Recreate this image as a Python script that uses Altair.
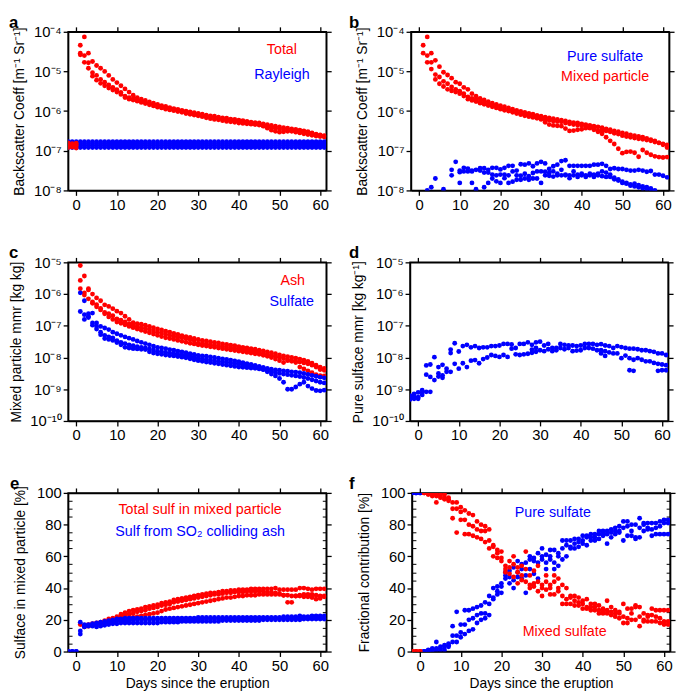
import altair as alt
import pandas as pd

FONT = "Liberation Sans"
RED = "#ff0000"
BLUE = "#0000ff"
W, H = 262, 161
XTICKS = [0, 10, 20, 30, 40, 50, 60]
MINOR_PCT = [5, 10, 15, 25, 30, 35, 45, 50, 55, 65, 70, 75, 85, 90, 95]

# ---------------- Panel a (log10 values) ----------------
a_total_1 = (-2, [-6.80, -6.82, -6.81, -4.34, -4.13, -4.54, -4.75, -4.85, -4.92, -5.00, -5.10, -5.20, -5.28, -5.36, -5.44, -5.52, -5.60, -5.66, -5.70, -5.73, -5.77, -5.80, -5.83, -5.86, -5.88, -5.91, -5.94, -5.96, -5.98, -6.00, -6.02, -6.04, -6.06, -6.08, -6.10, -6.12, -6.13, -6.15, -6.17, -6.18, -6.20, -6.21, -6.23, -6.24, -6.26, -6.28, -6.29, -6.30, -6.32, -6.34, -6.36, -6.38, -6.40, -6.42, -6.43, -6.45, -6.46, -6.48, -6.50, -6.52, -6.55, -6.58, -6.60, -6.62])
a_total_2 = (-2, [-6.86, -6.87, -6.86, -4.54, -4.60, -4.78, -5.03, -5.10, -5.20, -5.27, -5.34, -5.40, -5.46, -5.53, -5.62, -5.66, -5.69, -5.72, -5.75, -5.78, -5.81, -5.84, -5.87, -5.90, -5.92, -5.94, -5.96, -5.98, -6.00, -6.03, -6.05, -6.07, -6.09, -6.11, -6.13, -6.15, -6.17, -6.19, -6.20, -6.22, -6.23, -6.25, -6.27, -6.28, -6.30, -6.31, -6.32, -6.34, -6.38, -6.43, -6.48, -6.51, -6.53, -6.52, -6.51, -6.50, -6.52, -6.51, -6.53, -6.55, -6.58, -6.60, -6.62, -6.63])
a_total_3 = (-2, [-6.92, -6.91, -6.93, -4.58, -4.77, -4.92, -5.12, -5.22, -5.30, -5.36, -5.42, -5.47, -5.52, -5.58, -5.66, -5.70, -5.72, -5.75, -5.78, -5.81, -5.84, -5.87, -5.90, -5.92, -5.95, -5.97, -5.99, -6.01, -6.03, -6.06, -6.08, -6.10, -6.12, -6.14, -6.17, -6.19, -6.21, -6.22, -6.24, -6.26, -6.27, -6.28, -6.30, -6.31, -6.32, -6.33, -6.34, -6.35, -6.37, -6.39, -6.41, -6.43, -6.45, -6.47, -6.49, -6.51, -6.53, -6.55, -6.57, -6.59, -6.61, -6.63, -6.64, -6.65])
rayleigh_levels = [-6.92, -6.87, -6.82, -6.77]

# ---------------- Panel b ----------------
b_mixed_1 = (1, [-4.34, -4.13, -4.54, -4.72, -4.88, -5.02, -5.09, -5.17, -5.27, -5.31, -5.40, -5.45, -5.56, -5.62, -5.68, -5.72, -5.76, -5.80, -5.83, -5.86, -5.89, -5.92, -5.95, -5.98, -6.01, -6.03, -6.06, -6.08, -6.11, -6.13, -6.15, -6.17, -6.19, -6.21, -6.23, -6.25, -6.27, -6.29, -6.30, -6.32, -6.34, -6.36, -6.38, -6.40, -6.42, -6.45, -6.47, -6.50, -6.52, -6.55, -6.57, -6.60, -6.62, -6.64, -6.66, -6.69, -6.72, -6.75, -6.80, -6.85, -6.92])
b_mixed_2 = (1, [-4.54, -4.60, -4.77, -5.08, -5.14, -5.25, -5.31, -5.39, -5.45, -5.50, -5.56, -5.64, -5.68, -5.70, -5.76, -5.79, -5.82, -5.85, -5.88, -5.91, -5.94, -5.97, -6.00, -6.04, -6.07, -6.09, -6.11, -6.13, -6.16, -6.19, -6.21, -6.23, -6.25, -6.26, -6.27, -6.30, -6.32, -6.34, -6.35, -6.37, -6.40, -6.43, -6.47, -6.52, -6.57, -6.66, -6.75, -6.83, -6.95, -7.06, -7.03, -7.02, -7.05, -7.15, -6.98, -7.05, -7.10, -7.14, -7.16, -7.17, -7.16])
b_mixed_3 = (2, [-4.77, -4.94, -5.20, -5.31, -5.38, -5.45, -5.49, -5.52, -5.56, -5.62, -5.70, -5.73, -5.76, -5.80, -5.83, -5.86, -5.89, -5.92, -5.95, -5.98, -6.00, -6.03, -6.06, -6.09, -6.12, -6.14, -6.16, -6.18, -6.21, -6.28, -6.34, -6.36, -6.37, -6.38, -6.44, -6.50, -6.49, -6.47, -6.46, -6.43, -6.40, -6.44, -6.50, -6.49, -6.50, -6.52, -6.56, -6.58, -6.62, -6.64, -6.66, -6.68, -6.70, -6.71, -6.73, -6.75, -6.78, -6.80, -6.83, -6.85])
b_pure_1 = (4, [-7.70, None, None, None, -7.48, -7.28, -7.50, -7.43, -7.45, -7.50, -7.48, -7.44, -7.44, -7.48, -7.43, -7.43, -7.47, -7.43, -7.38, -7.38, -7.50, -7.34, -7.35, -7.32, -7.39, -7.32, -7.28, -7.32, -7.46, -7.39, -7.35, -7.26, -7.24, -7.38, -7.38, -7.38, -7.38, -7.38, -7.38, -7.35, -7.35, -7.33, -7.38, -7.46, -7.44, -7.46, -7.46, -7.48, -7.50, -7.50, -7.48, -7.50, -7.53, -7.51, -7.60, -7.60, -7.63, -7.67])
b_pure_2 = (3, [-7.92, None, None, None, None, -7.62, None, -7.54, -7.52, -7.52, -7.52, None, -7.50, -7.55, -7.55, -7.60, -7.62, -7.60, -7.60, -7.62, -7.52, -7.62, -7.63, -7.58, -7.64, -7.56, -7.52, -7.52, -7.53, -7.56, -7.52, -7.58, -7.48, -7.60, -7.62, -7.52, -7.60, -7.58, -7.62, -7.58, -7.60, -7.58, -7.52, -7.55, -7.60, -7.68, -7.72, -7.81, -7.81, -7.85, -7.83, -7.87, -7.90, -7.92, -7.95, -8.00])
b_pure_3 = (2, [-8.00, None, None, None, -7.97, None, None, None, -7.81, None, None, -7.81, -7.97, None, -7.92, -7.81, -7.70, -7.77, -7.81, -7.69, -7.81, -7.78, -7.73, -7.73, -7.70, -7.73, -7.70, -7.70, -7.81, -7.62, -7.63, -7.65, -7.62, -7.62, -7.62, -7.69, -7.62, -7.66, -7.62, -7.66, -7.62, -7.66, -7.62, -7.64, -7.66, -7.66, -7.72, -7.75, -7.78, -7.83, -7.88, -7.90, -7.92, -7.95, -7.96, -7.98, -8.02])

# ---------------- Panel c ----------------
c_ash_1 = (1, [-5.10, -5.43, -5.83, -6.00, -6.12, -6.21, -6.34, -6.39, -6.46, -6.54, -6.60, -6.70, -6.80, -6.90, -6.93, -6.95, -6.98, -7.02, -7.06, -7.10, -7.13, -7.17, -7.20, -7.24, -7.27, -7.31, -7.34, -7.37, -7.40, -7.43, -7.46, -7.48, -7.50, -7.52, -7.54, -7.57, -7.59, -7.61, -7.63, -7.66, -7.68, -7.70, -7.72, -7.74, -7.77, -7.79, -7.82, -7.85, -7.88, -7.92, -7.95, -7.97, -8.00, -8.02, -8.05, -8.08, -8.12, -8.18, -8.24, -8.30, -8.34])
c_ash_2 = (1, [-5.57, -5.96, -5.87, -6.25, -6.33, -6.45, -6.58, -6.62, -6.68, -6.78, -6.82, -6.88, -6.94, -6.98, -7.02, -7.05, -7.08, -7.12, -7.16, -7.20, -7.23, -7.27, -7.30, -7.33, -7.36, -7.38, -7.41, -7.43, -7.46, -7.55, -7.56, -7.57, -7.59, -7.61, -7.63, -7.65, -7.67, -7.69, -7.71, -7.73, -7.75, -7.77, -7.79, -7.81, -7.84, -7.87, -7.90, -7.93, -7.96, -7.99, -8.03, -8.07, -8.10, -8.12, -8.14, -8.17, -8.20, -8.24, -8.30, -8.38, -8.40])
c_ash_3 = (1, [-5.83, -6.03, -6.15, -6.29, -6.40, -6.50, -6.62, -6.72, -6.80, -6.88, -6.92, -6.97, -7.02, -7.06, -7.10, -7.14, -7.18, -7.22, -7.26, -7.30, -7.34, -7.38, -7.40, -7.43, -7.46, -7.49, -7.52, -7.55, -7.57, -7.60, -7.62, -7.64, -7.66, -7.68, -7.70, -7.72, -7.74, -7.76, -7.78, -7.80, -7.82, -7.84, -7.86, -7.88, -7.90, -7.93, -7.96, -8.00, -8.05, -8.10, -8.16, -8.10, -8.12, -8.16, -8.30, -8.36, -8.42, -8.48, -8.54, -8.57, -8.58])
c_sul_1 = (1, [-5.96, -6.21, -6.62, -6.60, -6.91, -7.02, -7.07, -7.12, -7.20, -7.25, -7.30, -7.35, -7.39, -7.43, -7.48, -7.52, -7.56, -7.60, -7.64, -7.68, -7.70, -7.72, -7.75, -7.77, -7.80, -7.82, -7.85, -7.88, -7.90, -7.93, -7.95, -7.96, -7.98, -8.00, -8.02, -8.04, -8.06, -8.08, -8.11, -8.13, -8.16, -8.19, -8.22, -8.25, -8.28, -8.31, -8.34, -8.37, -8.39, -8.40, -8.42, -8.43, -8.45, -8.46, -8.48, -8.50, -8.53, -8.56, -8.59, -8.62, -8.64])
c_sul_2 = (1, [-6.55, -6.80, -6.70, -6.91, -7.01, -7.20, -7.30, -7.35, -7.38, -7.47, -7.52, -7.56, -7.60, -7.63, -7.66, -7.68, -7.70, -7.73, -7.76, -7.80, -7.82, -7.84, -7.86, -7.88, -7.90, -7.92, -7.94, -7.96, -7.99, -8.02, -8.04, -8.06, -8.08, -8.10, -8.12, -8.13, -8.15, -8.17, -8.19, -8.21, -8.23, -8.25, -8.27, -8.29, -8.32, -8.38, -8.45, -8.52, -8.58, -8.66, -8.78, -9.00, -9.00, -8.93, -8.84, -8.78, -8.90, -8.98, -9.04, -9.05, -9.03])
c_sul_3 = (2, [-6.65, -6.74, -6.98, -7.10, -7.28, -7.40, -7.43, -7.46, -7.53, -7.60, -7.68, -7.70, -7.72, -7.73, -7.74, -7.75, -7.82, -7.86, -7.88, -7.90, -7.92, -7.94, -7.95, -7.97, -7.99, -8.01, -8.04, -8.07, -8.10, -8.12, -8.14, -8.16, -8.18, -8.20, -8.22, -8.24, -8.26, -8.28, -8.30, -8.31, -8.32, -8.33, -8.34, -8.36, -8.38, -8.41, -8.44, -8.47, -8.50, -8.52, -8.54, -8.56, -8.58, -8.60, -8.63, -8.66, -8.70, -8.74, -8.78, -8.80])

# ---------------- Panel d ----------------
d_pure_1 = (-2, [-9.20, -9.15, -9.10, -9.03, -8.25, -8.22, -7.99, -8.30, -8.23, -8.35, -7.75, -7.55, -7.81, -7.64, -7.60, -7.68, -7.64, -7.70, -7.68, -7.68, -7.64, -7.64, -7.62, -7.57, -7.57, -7.59, -7.70, -7.57, -7.57, -7.52, -7.60, -7.52, -7.50, -7.62, -7.57, -7.70, -7.70, -7.57, -7.60, -7.62, -7.62, -7.64, -7.62, -7.57, -7.57, -7.57, -7.60, -7.58, -7.62, -7.64, -7.70, -7.64, -7.67, -7.70, -7.72, -7.72, -7.74, -7.77, -7.77, -7.80, -7.82, -7.87, -7.87, -7.92])
d_pure_2 = (-2, [-9.25, -9.30, -9.25, -9.18, -8.54, -8.61, -8.71, -8.50, -8.56, -8.45, -7.86, -8.20, -8.35, -8.18, -8.30, -8.10, -8.08, -8.18, -8.05, -8.00, -7.92, -7.95, -7.98, -7.92, -7.98, -7.72, -7.90, -7.92, -7.90, -7.88, -7.75, -7.70, -7.77, -7.80, -7.74, -7.80, -7.77, -7.70, -7.74, -7.70, -7.80, -7.78, -7.77, -7.70, -7.70, -7.72, -7.77, -7.77, -7.80, -7.84, -7.87, -7.87, -8.02, -7.94, -8.02, -8.07, -8.02, -8.07, -8.12, -8.12, -8.17, -8.20, -8.22, -8.24])
d_pure_3 = {-2: -9.32, -1: -9.22, 0: -9.30, 1: -9.10, 2: -9.08, 3: -9.08, 5: -8.60, 6: -8.64, 8: -8.45,
            28: -7.85, 29: -7.82, 45: -7.87, 46: -7.95, 52: -8.40, 53: -8.42, 59: -8.42, 60: -8.40, 61: -8.40}

# ---------------- Panel e (%) ----------------
e_tot_1 = (1, [17, 16, 17, 17.5, 18, 18.5, 19.5, 20.5, 21, 22, 23.5, 24.5, 25.5, 26, 26.5, 27, 28, 28.5, 29, 29.5, 30.5, 31, 31.5, 32.5, 33, 33.5, 34, 34.5, 35, 35.5, 36, 36.5, 37, 37, 37.5, 38, 38, 38.5, 38.5, 39, 39, 39, 39.5, 39.5, 39.5, 39.5, 39.5, 39.5, 40, 39, 39, 39, 39, 39, 40, 40, 39.5, 39, 39.5, 39.5, 39.5])
e_tot_2 = (2, [16, 16.5, 17, 17.5, 18, 19, 19.5, 20, 21, 22, 23, 23.5, 24, 25, 25.5, 26, 27, 27.5, 28, 29, 29.5, 30, 31, 31.5, 32, 32.5, 33, 33.5, 34, 34.5, 35, 35.5, 36, 36, 36.5, 37, 37, 37.5, 37.5, 37.5, 38, 38, 38, 38, 38, 37.5, 37.5, 37, 36.5, 35.5, 31, 31, 35, 35.5, 36, 36, 36, 35.5, 35, 35])
e_tot_3 = (2, [15.5, 16, 16.5, 17, 17.5, 18, 18.5, 19, 19.5, 20, 20.5, 21, 21.5, 22, 22.5, 23, 23.5, 24, 24.5, 25.5, 26.5, 27, 27.5, 28, 28.5, 29, 29.5, 30, 30.5, 31, 31.5, 32, 32.5, 33, 33.5, 34, 34, 34.5, 35, 35, 35.5, 35.5, 35.5, 36, 36, 36, 36, 36, 36, 35.5, 35.5, 35, 35, 35, 34.5, 34.5, 34, 33, 33.5, 34.5])
e_so2_1 = (-2, [0, 0, 0, 18.5, 17, 17, 17.5, 18, 18.5, 19, 19.5, 20, 20.5, 20.5, 21, 21, 21, 21, 21, 21, 21, 21, 21, 21, 21, 21, 21, 21, 21, 21, 21, 21, 21.5, 21.5, 21.5, 21.5, 21.5, 21.5, 21.5, 21.5, 21.5, 21.5, 21.5, 21.5, 21.5, 21.5, 21.5, 21.5, 21.5, 21.5, 21.5, 21.5, 21.5, 22, 22, 22, 22, 22.5, 22, 22, 22.5, 22.5, 22.5, 22.5])
e_so2_2 = (-2, [0, 0, 0, 13, 16, 16.5, 17, 17, 17.5, 18, 18.5, 19, 19.5, 19.5, 19.5, 19.5, 20, 20, 20, 20, 20, 20, 20, 20, 20, 20, 20, 20, 20, 20, 20, 20, 20, 20.5, 20.5, 20.5, 20.5, 20.5, 20.5, 20.5, 20.5, 20.5, 20.5, 20.5, 20.5, 20.5, 20.5, 20.5, 21, 21, 21, 21, 21, 21, 21, 21, 21, 21, 21, 21, 21, 21, 21, 21])
e_so2_3 = (1, [11, 15.5, 16, 16, 15.5, 16, 16.5, 17, 17.5, 17.5, 18, 18, 18, 18, 18, 18, 18, 18, 18, 18, 18.5, 18.5, 18.5, 18.5, 18.5, 19, 19, 19, 19, 19, 19, 19, 19, 19, 19, 19.5, 19.5, 19.5, 19.5, 19.5, 19.5, 19.5, 19.5, 19.5, 19.5, 20, 20, 20, 20, 20, 20, 20, 20, 20, 20, 20.5, 20.5, 20.5, 20.5, 20.5, 20.5])

# ---------------- Panel f (%) ----------------
f_pure_1 = (-2, [100, 100, 100, 0, 1, 2, 6, 3, 4, 5, 16, 25, 17, 26, 26, 27, 28, 29, 31, 35, 40, 41, 43, 50, 51, 53, 57, 55, 56, 60, 59, 62, 65, 61, 64, 64, 62, 70, 70, 70, 71, 71, 73, 73, 74, 74, 76, 76, 76, 77, 78, 79, 82, 82, 80, 80, 84, 81, 81, 81, 81, 82, 83, 83])
f_pure_2 = (-2, [100, 100, 100, 0, 0.5, 1, 2, 2, 3, 4, 10, 10, 12, 17, 20, 21, 23, 24, 24, 30, 34, 38, 41, 48, 47, 45, 50, 52, 48, 58, 57, 56, 60, 56, 60, 56, 60, 65, 67, 66, 68, 69, 70, 72, 72, 72, 74, 75, 74, 75, 76, 76, 78, 79, 76, 72, 78, 80, 78, 77, 78, 79, 81, 81])
f_pure_3 = (-2, [100, 100, 100, 0, 0, 0.5, 1, 1, 1, 3, 6, 6, 9, 11, 13, 14, 18, 20, 21, 23, 33, 36, 37, 46, 43, 40, 47, 46, 37, 52, 49, 46, 58, 52, 58, 52, 54, 58, 60, 65, 65, 66, 68, 67, 70, 70, 71, 73, 68, 72, 74, 75, 70, 73, 73, 71, 72, 76, 77, 73, 74, 74, 74, 74])
f_mixed_1 = (-2, [0, 0, 0, 100, 100, 99.5, 99, 99, 99, 97, 94, 94, 91, 89, 87, 86, 82, 80, 79, 77, 67, 64, 63, 54, 57, 60, 53, 54, 63, 48, 51, 54, 42, 48, 42, 48, 46, 42, 40, 35, 35, 34, 32, 33, 30, 30, 29, 27, 32, 28, 26, 25, 30, 27, 27, 29, 28, 24, 23, 27, 26, 26, 26, 26])
f_mixed_2 = (-2, [0, 0, 0, 100, 99.5, 99, 98, 98, 97, 96, 90, 90, 88, 83, 80, 79, 77, 76, 76, 70, 66, 62, 59, 52, 53, 55, 50, 48, 52, 42, 43, 44, 40, 44, 40, 44, 40, 35, 33, 34, 32, 31, 30, 28, 28, 28, 26, 25, 26, 25, 24, 24, 22, 21, 24, 28, 22, 20, 22, 23, 22, 21, 19, 19])
f_mixed_3 = (-2, [0, 0, 0, 100, 99, 98, 94, 97, 96, 95, 84, 75, 83, 74, 74, 73, 72, 71, 69, 65, 60, 59, 57, 50, 49, 47, 43, 45, 44, 40, 41, 38, 35, 39, 36, 36, 38, 30, 30, 30, 29, 29, 27, 27, 26, 26, 24, 24, 24, 23, 22, 21, 18, 18, 20, 20, 16, 19, 19, 19, 19, 18, 17, 17])


def long_df(groups, log):
    rows = []
    for color, curves in groups:
        for c in curves:
            if isinstance(c, dict):
                items = list(c.items())
            else:
                start, vals = c
                items = [(start + i, v) for i, v in enumerate(vals)]
            for d, v in items:
                if v is None:
                    continue
                rows.append({"day": d, "v": (10 ** v) if log else v, "c": color})
    return pd.DataFrame(rows)


LOG_EXPR = ("'10\u207b' + replace(replace(replace(replace(replace(replace(replace(replace("
            "'' + round(-log(datum.value)/LN10), '0','\u2070'),'1','\u00b9'),'4','\u2074'),"
            "'5','\u2075'),'6','\u2076'),'7','\u2077'),'8','\u2078'),'9','\u2079')")


def panel(df, ydom, log, ytitle, xtitle, letter, texts, letter_x=-60):
    xs = alt.Scale(domain=[-2, 61.5], nice=False, zero=False)
    if log:
        ys = alt.Scale(type="log", domain=ydom, nice=False)
        lo, hi = ydom
        yvals = []
        v = lo
        while v <= hi * 1.0001:
            yvals.append(v)
            v *= 10
        yax = alt.Axis(values=yvals, labelExpr=LOG_EXPR, title=ytitle, titlePadding=7)
    else:
        ys = alt.Scale(domain=ydom, nice=False, zero=False)
        yvals = [0, 20, 40, 60, 80, 100]
        yax = alt.Axis(values=yvals, title=ytitle, titlePadding=9)
    yax_r = alt.Axis(orient="right", values=yvals, labels=False, title=None)
    xax = alt.Axis(values=XTICKS, title=xtitle, titlePadding=4) if xtitle else alt.Axis(values=XTICKS, title=None)
    xax_t = alt.Axis(orient="top", values=XTICKS, labels=False, title=None)

    pts = alt.Chart(df).mark_circle(size=24, opacity=1, clip=True).encode(
        x=alt.X("day:Q", scale=xs, axis=xax),
        y=alt.Y("v:Q", scale=ys, axis=yax),
        color=alt.Color("c:N", scale=None),
    )
    mirror = alt.Chart(df).mark_circle(opacity=0, clip=True).encode(
        x=alt.X("day:Q", scale=xs, axis=xax_t),
        y=alt.Y("v:Q", scale=ys, axis=yax_r),
    )
    layers = [pts, mirror]
    if not log:
        # inward minor ticks on both vertical edges
        for orient in ["left", "right"]:
            layers.append(alt.Chart(df).mark_circle(opacity=0, clip=True).encode(
                x=alt.X("day:Q", scale=xs, axis=None),
                y=alt.Y("v:Q", scale=ys, axis=alt.Axis(
                    orient="right" if orient == "left" else "left", offset=-W,
                    values=MINOR_PCT, labels=False, domain=False, title=None, tickSize=4, tickWidth=1)),
            ))
    lab = alt.Chart(pd.DataFrame({"t": [letter]})).mark_text(
        font=FONT, fontSize=17, fontWeight="bold", align="left", baseline="alphabetic", color="black"
    ).encode(x=alt.value(letter_x), y=alt.value(-4), text="t:N")
    layers.append(lab)
    for t, col, tx, ty in texts:
        layers.append(
            alt.Chart(pd.DataFrame({"t": [t]})).mark_text(
                font=FONT, fontSize=14.5, color=col, align="center", baseline="middle"
            ).encode(x=alt.value(tx), y=alt.value(ty), text="t:N")
        )
    return alt.layer(*layers).properties(width=W, height=H).resolve_axis(x="independent", y="independent")


df_a = long_df([
    (BLUE, [(-2, [lv] * 64) for lv in rayleigh_levels]),
    (RED, [a_total_1, a_total_2, a_total_3]),
], True)
df_b = long_df([(RED, [b_mixed_1, b_mixed_2, b_mixed_3]), (BLUE, [b_pure_1, b_pure_2, b_pure_3])], True)
df_c = long_df([(RED, [c_ash_1, c_ash_2, c_ash_3]), (BLUE, [c_sul_1, c_sul_2, c_sul_3])], True)
df_d = long_df([(BLUE, [d_pure_1, d_pure_2, d_pure_3])], True)
df_e = long_df([(RED, [e_tot_1, e_tot_2, e_tot_3]), (BLUE, [e_so2_1, e_so2_2, e_so2_3])], False)
df_f = long_df([(BLUE, [f_pure_1, f_pure_2, f_pure_3]), (RED, [f_mixed_1, f_mixed_2, f_mixed_3])], False)

bs_title = "Backscatter Coeff [m\u207b\u00b9 Sr\u207b\u00b9]"
pa = panel(df_a, [1e-8, 1e-4], True, bs_title, None, "a",
           [("Total", RED, 217, 19), ("Rayleigh", BLUE, 217, 44)])
pb = panel(df_b, [1e-8, 1e-4], True, bs_title, None, "b",
           [("Pure sulfate", BLUE, 197, 26), ("Mixed particle", RED, 197, 46)], letter_x=-63)
pc = panel(df_c, [1e-10, 1e-5], True, "Mixed particle mmr [kg kg]", None, "c",
           [("Ash", RED, 228, 19), ("Sulfate", BLUE, 227, 40)])
pd_ = panel(df_d, [1e-10, 1e-5], True, "Pure sulface mmr [kg kg\u207b\u00b9]", None, "d",
            [], letter_x=-62)
pe = panel(df_e, [0, 100], False, "Sulface in mixed particle [%]", "Days since the eruption", "e",
           [("Total sulf in mixed particle", RED, 134, 17), ("Sulf from SO\u2082 colliding ash", BLUE, 134, 40)],
           letter_x=-59)
pf = panel(df_f, [0, 100], False, "Fractional contribution [%]", "Days since the eruption", "f",
           [("Pure sulfate", BLUE, 143, 20), ("Mixed sulfate", RED, 155, 141)], letter_x=-64)

chart = alt.vconcat(
    alt.hconcat(pa, pb, spacing=15),
    alt.hconcat(pc, pd_, spacing=15),
    alt.hconcat(pe, pf, spacing=15),
    spacing=31,
).properties(padding={"top": 0, "left": 0, "right": 0, "bottom": 0}).configure_view(
    stroke="black", strokeWidth=1.5
).configure_axis(
    labelFont=FONT, titleFont=FONT, labelFontSize=15, titleFontSize=14,
    titleFontWeight="normal", labelColor="black", titleColor="black",
    tickColor="black", domainColor="black", domainWidth=1.5, tickWidth=1.3,
    tickSize=5, labelPadding=2, grid=False,
)

chart.save("out.html", embed_options={"renderer": "svg", "actions": False})
